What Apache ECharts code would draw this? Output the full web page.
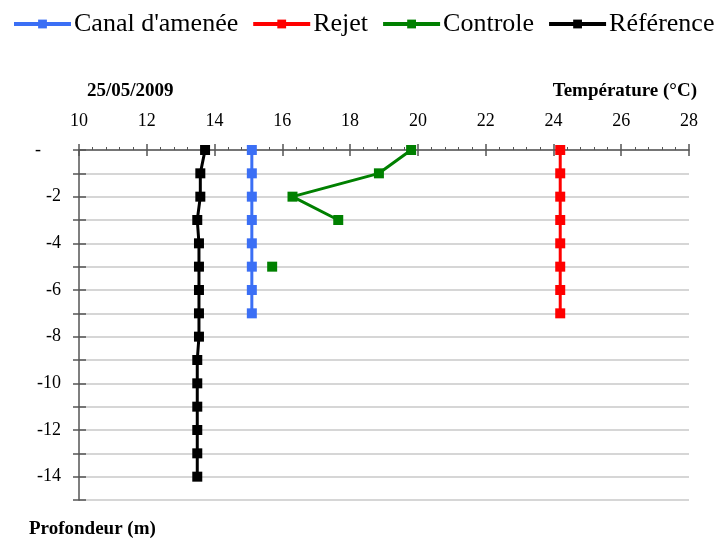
<!DOCTYPE html>
<html>
<head>
<meta charset="utf-8">
<script src="https://cdn.jsdelivr.net/npm/echarts@6/dist/echarts.min.js"></script>
<style>
  html, body { margin: 0; padding: 0; background: #fff; }
  #chart { width: 719px; height: 538px; }
</style>
</head>
<body>
<div id="chart"></div>
<script>
// profondeurs (m)
let depthShort = [0, -1, -2, -3, -4, -5, -6, -7]
let depthLong = [0, -1, -2, -3, -4, -5, -6, -7, -8, -9, -10, -11, -12, -13, -14]
// températures (°C)
let canalValues = [15.1, 15.1, 15.1, 15.1, 15.1, 15.1, 15.1, 15.1]
let rejetValues = [24.2, 24.2, 24.2, 24.2, 24.2, 24.2, 24.2, 24.2]
let controleValues = [19.8, 18.85, 16.3, 17.65, null, 15.7]
let referenceValues = [13.72, 13.58, 13.58, 13.49, 13.54, 13.54, 13.54, 13.54, 13.54, 13.49, 13.49, 13.49, 13.49, 13.49, 13.49]
let seriesNames = ["Canal d'amenée", 'Rejet', 'Controle', 'Référence']
let seriesColors = ['#3b6ff5', '#ff0000', '#008000', '#000000']

function pairs(vals, depths) {
  let arr = []
  vals.forEach((v, i) => {
    arr.push(v === null ? [null, depths[i]] : [v, depths[i]])
  })
  return arr
}

let font = 'Liberation Serif'
let myChart = echarts.init(document.getElementById('chart'))

let series = [
  pairs(canalValues, depthShort),
  pairs(rejetValues, depthShort),
  pairs(controleValues, depthShort),
  pairs(referenceValues, depthLong)
].map((data, i) => ({
  name: seriesNames[i],
  type: 'line',
  xAxisIndex: 0,
  yAxisIndex: 0,
  data: data,
  symbol: 'rect',
  symbolSize: 10,
  showAllSymbol: true,
  connectNulls: false,
  lineStyle: { width: 3, color: seriesColors[i] },
  itemStyle: { color: seriesColors[i] },
  emphasis: { disabled: true }
}))

let tickStyle = { color: '#555', width: 1.5 }

myChart.setOption({
  animation: false,
  color: seriesColors,
  textStyle: { fontFamily: font },
  title: [
    { text: '25/05/2009', left: 82, top: 77, textStyle: { fontFamily: font, fontSize: 19, fontWeight: 'bold', color: '#000' } },
    { text: 'Température (°C)', right: 17, top: 77, textStyle: { fontFamily: font, fontSize: 19, fontWeight: 'bold', color: '#000' } },
    { text: 'Profondeur (m)', left: 24, top: 515, textStyle: { fontFamily: font, fontSize: 19, fontWeight: 'bold', color: '#000' } }
  ],
  legend: {
    left: 12,
    top: 11,
    padding: 0,
    itemWidth: 57,
    itemHeight: 11,
    itemGap: 13,
    lineStyle: { width: 4 },
    textStyle: { fontFamily: font, fontSize: 26, color: '#000', padding: [0, 0, 0, -2] },
    data: seriesNames
  },
  grid: { left: 79, right: 30, top: 150, bottom: 38 },
  xAxis: [
    {
      type: 'value',
      position: 'top',
      min: 10,
      max: 28,
      interval: 2,
      axisLine: { show: true, lineStyle: tickStyle },
      axisTick: { show: true, length: 6, lineStyle: tickStyle },
      minorTick: { show: true, splitNumber: 5, length: 3, lineStyle: { color: '#555', width: 1 } },
      axisLabel: { margin: 20, fontSize: 18, color: '#000', fontFamily: font },
      splitLine: { show: false }
    },
    {
      type: 'value',
      position: 'top',
      min: 10,
      max: 28,
      interval: 2,
      axisLine: { show: false },
      axisTick: { show: true, inside: true, length: 6, lineStyle: tickStyle },
      axisLabel: { show: false },
      splitLine: { show: false }
    }
  ],
  yAxis: [
    {
      type: 'value',
      min: -15,
      max: 0,
      interval: 1,
      axisLine: { show: true, lineStyle: tickStyle },
      axisTick: { show: true, inside: true, length: 7, lineStyle: tickStyle },
      axisLabel: {
        margin: 18,
        fontSize: 18,
        color: '#000',
        fontFamily: font,
        formatter: function (val) {
          if (val === 0) return '{z|-}'
          if (val % 2 !== 0) return ''
          return String(val)
        },
        rich: { z: { fontSize: 18, fontFamily: font, color: '#000', padding: [0, 20, 0, 0] } }
      },
      splitLine: { show: true, lineStyle: { color: '#c8c8c8', width: 1.5 } }
    },
    {
      type: 'value',
      position: 'left',
      min: -15,
      max: 0,
      interval: 1,
      axisLine: { show: false },
      axisTick: { show: true, length: 6, lineStyle: tickStyle },
      axisLabel: { show: false },
      splitLine: { show: false }
    }
  ],
  series: series
})
</script>
</body>
</html>
